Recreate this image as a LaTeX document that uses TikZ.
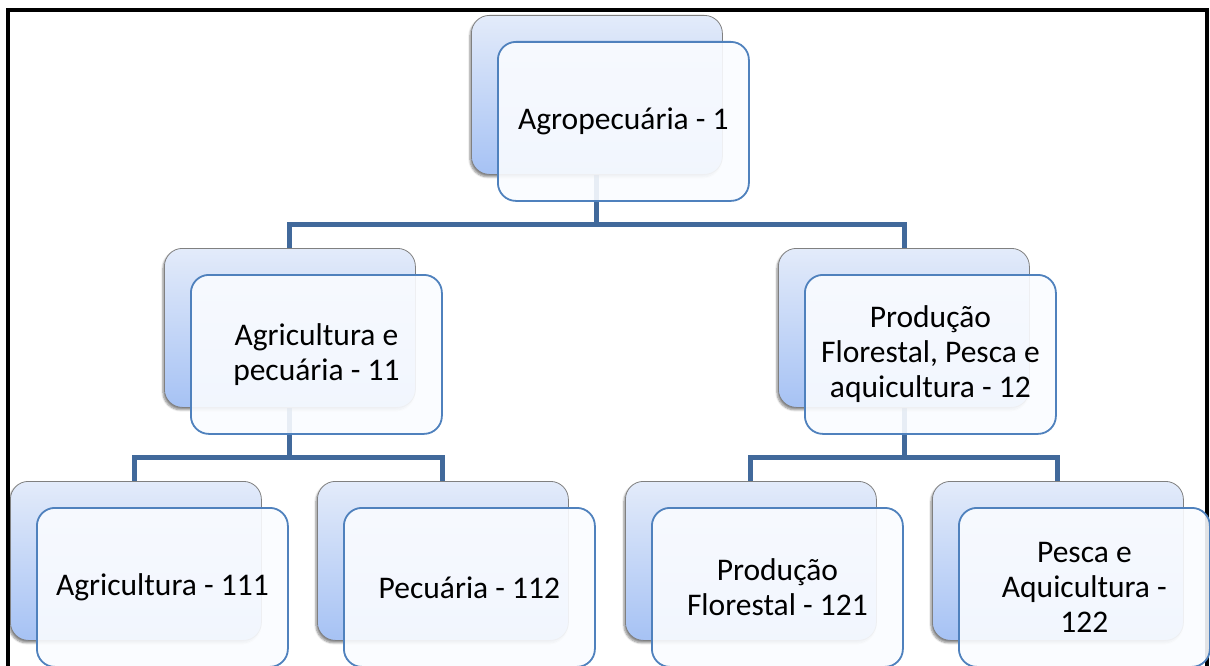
\documentclass[tikz,border=0pt]{standalone}
\usepackage{fontspec}
\setmainfont{Carlito}
\usetikzlibrary{shadows.blur}

\definecolor{linkblue}{HTML}{41699B}
\definecolor{edgeblue}{HTML}{4F81BD}
\definecolor{backtop}{HTML}{E3EBFA}
\definecolor{backbot}{HTML}{A6C2F4}
\definecolor{frontfill}{HTML}{FAFCFF}

\tikzset{
  backbox/.style={rectangle, rounded corners=18pt, draw={rgb,255:red,128;green,128;blue,128}, line width=0.8pt,
    top color=backtop, bottom color=backbot, minimum width=251pt, minimum height=159pt,
    inner sep=0pt, anchor=north west,
    blur shadow={shadow xshift=-1.5pt, shadow yshift=-2.5pt, shadow blur steps=6, shadow opacity=45}},
  frontbox/.style={rectangle, rounded corners=18pt, draw=edgeblue, line width=1.8pt,
    fill=frontfill, fill opacity=0.9, text opacity=1, minimum width=251pt, minimum height=159pt,
    inner sep=0pt, anchor=north west, align=center,
    font=\fontsize{31.5}{35}\selectfont},
  conn/.style={draw=linkblue, line width=5pt},
  frameline/.style={draw=black, line width=4pt}
}

\newcommand{\unitpair}[4]{%
  \node[backbox] (b#1) at (#2,#3) {};
  \node[frontbox] (f#1) at (#2+26,#3+26) {#4};
}

\begin{document}
\begin{tikzpicture}[x=1pt,y=-1pt]
\clip (0,0) rectangle (1210,666);

% outer frame (bottom edge lies outside the page)
\draw[frameline] (7.5,700) -- (7.5,10) -- (1206.5,10) -- (1206.5,700);

% branch lines
\coordinate (busA) at (0,224);
\coordinate (busB) at (0,457);
\coordinate (topC) at (596.5,175);
\coordinate (midL) at (289.5,407);
\coordinate (midR) at (904,407);
\coordinate (t11) at (289.5,248);
\coordinate (t12) at (904,248);
\coordinate (t111) at (134.5,481);
\coordinate (t112) at (442.5,481);
\coordinate (t121) at (750.5,481);
\coordinate (t122) at (1057.5,481);

\draw[conn] (topC) -- (topC |- busA) -| (t11);
\draw[conn] (topC |- busA) -| (t12);
\draw[conn] (midL) -- (midL |- busB) -| (t111);
\draw[conn] (midL |- busB) -| (t112);
\draw[conn] (midR) -- (midR |- busB) -| (t121);
\draw[conn] (midR |- busB) -| (t122);

% boxes
\unitpair{1}{471}{15}{Agropecuária - 1}
\unitpair{11}{164}{248}{Agricultura e\\pecuária - 11}
\unitpair{12}{778}{248}{Produção\\Florestal, Pesca e\\aquicultura - 12}
\unitpair{111}{10}{481}{Agricultura - 111}
\unitpair{112}{317}{481}{Pecuária - 112}
\unitpair{121}{625}{481}{Produção\\Florestal - 121}
\unitpair{122}{932}{481}{Pesca e\\Aquicultura -\\122}
\end{tikzpicture}
\end{document}
